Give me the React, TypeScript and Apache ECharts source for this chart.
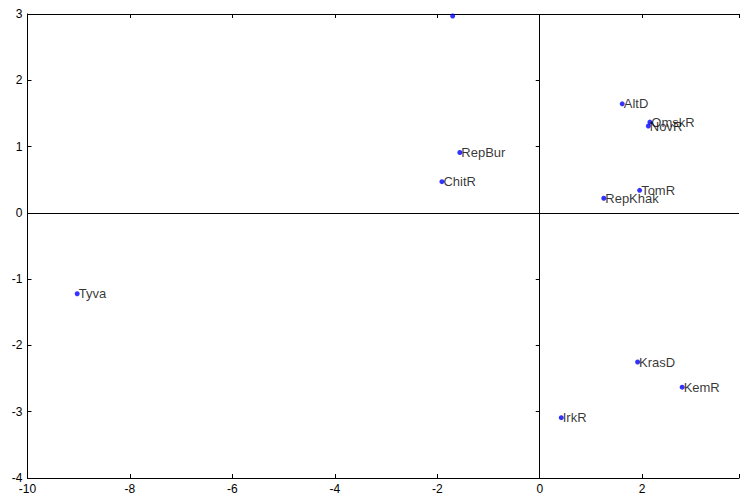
import React, { useEffect, useRef } from "react";
import * as echarts from "echarts";

const names = ["Tyva", "ChitR", "RepBur", "AltD", "OmskR", "NovR", "TomR", "RepKhak", "KrasD", "KemR", "IrkR", ""];
const xs = [-9.03, -1.91, -1.56, 1.61, 2.15, 2.12, 1.95, 1.25, 1.91, 2.78, 0.42, -1.7];
const ys = [-1.22, 0.47, 0.91, 1.645, 1.37, 1.31, 0.34, 0.22, -2.25, -2.63, -3.09, 2.97];
const xTicks = [-10, -8, -6, -4, -2, 0, 2];
const yTicks = [-4, -3, -2, -1, 0, 1, 2, 3];

export default function App() {
  const ref = useRef<HTMLDivElement>(null);
  useEffect(() => {
    document.body.style.margin = "0";
    const chart = echarts.init(ref.current!, undefined, { renderer: "svg" });
    const font = "Liberation Sans, Arial, sans-serif";
    const axisCommon = {
      type: "value" as const,
      axisLine: { show: true, onZero: false, lineStyle: { color: "#000", width: 1 } },
      axisTick: { show: true, inside: true, length: 4, lineStyle: { color: "#000" } },
      splitLine: { show: false },
    };
    const xMax = 3.89;
    chart.setOption({
      animation: false,
      backgroundColor: "#fff",
      grid: { left: 27.5, right: 0, top: 14, bottom: 16, containLabel: false },
      xAxis: [
        {
          ...axisCommon,
          position: "bottom",
          min: -10,
          max: xMax,
          interval: 2,
          axisLabel: {
            color: "#000",
            fontFamily: font,
            fontSize: 12,
            margin: 5,
            formatter: (v: number) => (xTicks.includes(v) ? String(v) : ""),
          },
        },
        {
          ...axisCommon,
          position: "top",
          min: -10,
          max: xMax,
          interval: 2,
          axisLabel: { show: false },
        },
      ],
      yAxis: [
        {
          ...axisCommon,
          position: "left",
          min: -4,
          max: 3,
          interval: 1,
          axisLabel: {
            color: "#000",
            fontFamily: font,
            fontSize: 12,
            margin: 5,
            formatter: (v: number) => (yTicks.includes(v) ? String(v) : ""),
          },
        },
        {
          ...axisCommon,
          position: "right",
          min: -4,
          max: 3,
          interval: 1,
          axisLine: { show: false },
          axisLabel: { show: false },
        },
      ],
      series: [
        {
          type: "scatter",
          symbol: "circle",
          symbolSize: 5,
          itemStyle: { color: "#0000ff" },
          data: names.map((n, i) => ({ value: [xs[i], ys[i]], name: n })),
          label: {
            show: true,
            position: "right",
            distance: -1,
            formatter: (p: any) => p.name,
            color: "#000",
            fontFamily: font,
            fontSize: 13,
          },
          markLine: {
            silent: true,
            symbol: "none",
            label: { show: false },
            lineStyle: { color: "#000", width: 1, type: "solid" },
            data: [{ xAxis: 0 }, { yAxis: 0 }],
          },
          z: 3,
        },
      ],
    });
    return () => chart.dispose();
  }, []);
  return <div ref={ref} style={{ width: 742, height: 495 }} />;
}
